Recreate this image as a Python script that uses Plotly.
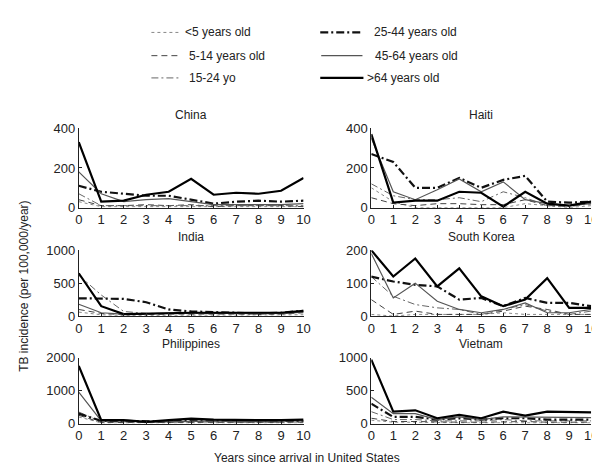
import plotly.graph_objects as go

years = list(range(11))
age_groups = ["<5 years old", "5-14 years old", "15-24 yo", "25-44 years old", "45-64 years old", ">64 years old"]
countries = ["China", "Haiti", "India", "South Korea", "Philippines", "Vietnam"]

china = {
    "<5 years old":    [30, 5, 5, 5, 5, 5, 5, 5, 5, 5, 5],
    "5-14 years old":  [40, 10, 10, 15, 10, 15, 5, 10, 10, 10, 5],
    "15-24 yo":        [70, 10, 10, 10, 10, 10, 10, 10, 10, 10, 10],
    "25-44 years old": [110, 80, 70, 60, 60, 40, 20, 30, 35, 30, 35],
    "45-64 years old": [180, 70, 30, 40, 45, 30, 15, 15, 15, 15, 20],
    ">64 years old":   [330, 30, 35, 65, 80, 145, 65, 75, 70, 85, 150],
}
haiti = {
    "<5 years old":    [100, 30, 0, 0, 0, 0, 0, 20, 10, 0, 10],
    "5-14 years old":  [50, 20, 10, 20, 20, 15, 15, 40, 10, 10, 20],
    "15-24 yo":        [120, 60, 40, 40, 50, 30, 80, 50, 10, 5, 20],
    "25-44 years old": [270, 230, 100, 100, 150, 100, 140, 160, 30, 25, 30],
    "45-64 years old": [350, 80, 40, 90, 145, 80, 130, 40, 20, 10, 20],
    ">64 years old":   [370, 25, 35, 35, 80, 75, 5, 80, 20, 10, 30],
}
india = {
    "<5 years old":    [60, 20, 10, 10, 10, 10, 10, 10, 10, 10, 20],
    "5-14 years old":  [100, 40, 20, 30, 30, 30, 30, 30, 30, 30, 50],
    "15-24 yo":        [620, 320, 70, 40, 40, 40, 40, 40, 40, 40, 60],
    "25-44 years old": [270, 270, 260, 210, 100, 70, 60, 50, 40, 50, 80],
    "45-64 years old": [180, 50, 30, 40, 40, 50, 40, 40, 40, 40, 60],
    ">64 years old":   [650, 150, 30, 40, 50, 50, 50, 50, 50, 50, 80],
}
south_korea = {
    "<5 years old":    [5, 0, 5, 5, 5, 5, 10, 5, 5, 5, 5],
    "5-14 years old":  [50, 5, 15, 5, 5, 5, 15, 30, 20, 5, 5],
    "15-24 yo":        [120, 60, 35, 25, 20, 5, 20, 35, 15, 5, 15],
    "25-44 years old": [120, 105, 95, 90, 50, 55, 30, 55, 40, 40, 30],
    "45-64 years old": [190, 55, 100, 45, 20, 10, 20, 40, 10, 10, 20],
    ">64 years old":   [200, 120, 175, 90, 145, 60, 30, 50, 115, 25, 25],
}
philippines = {
    "<5 years old":    [200, 20, 20, 20, 20, 20, 20, 20, 20, 20, 20],
    "5-14 years old":  [250, 30, 30, 30, 30, 40, 30, 30, 30, 30, 40],
    "15-24 yo":        [350, 50, 50, 40, 40, 60, 40, 40, 40, 40, 50],
    "25-44 years old": [300, 80, 80, 60, 60, 100, 80, 80, 70, 70, 80],
    "45-64 years old": [950, 80, 80, 50, 60, 80, 80, 60, 60, 60, 80],
    ">64 years old":   [1750, 100, 100, 50, 100, 150, 120, 100, 100, 100, 120],
}
vietnam = {
    "<5 years old":    [50, 20, 20, 10, 10, 10, 10, 10, 10, 10, 10],
    "5-14 years old":  [80, 30, 30, 20, 20, 20, 30, 30, 20, 20, 20],
    "15-24 yo":        [180, 60, 60, 40, 40, 40, 60, 40, 40, 40, 40],
    "25-44 years old": [300, 100, 100, 60, 80, 60, 80, 80, 60, 60, 60],
    "45-64 years old": [400, 150, 150, 60, 100, 60, 100, 100, 100, 100, 90],
    ">64 years old":   [970, 180, 200, 80, 130, 80, 180, 120, 180, 180, 170],
}
data = [china, haiti, india, south_korea, philippines, vietnam]
y_max = [400, 400, 1000, 200, 2000, 1000]
y_ticks = [[0, 200, 400], [0, 200, 400], [0, 500, 1000], [0, 100, 200], [0, 1000, 2000], [0, 500, 1000]]

styles = {
    "<5 years old":    dict(color="#888888", width=1, dash="dot"),
    "5-14 years old":  dict(color="#444444", width=1, dash="6px,4px"),
    "15-24 yo":        dict(color="#666666", width=1, dash="7px,3px,2px,3px"),
    "25-44 years old": dict(color="#111111", width=2.2, dash="8px,3px,2px,3px"),
    "45-64 years old": dict(color="#555555", width=1.2, dash="solid"),
    ">64 years old":   dict(color="#000000", width=2.2, dash="solid"),
}

W, H = 600, 469
col_x = [(68, 297), (366, 590)]
row_y = [(117, 199), (243, 311), (354, 422)]

font = "Liberation Sans, Arial, sans-serif"
fig = go.Figure()
layout = dict(width=W, height=H, margin=dict(l=0, r=0, t=0, b=0),
              paper_bgcolor="white", plot_bgcolor="white", showlegend=False,
              font=dict(family=font, size=12, color="#222222"))
annotations = []
shapes = []

for i, (cname, d) in enumerate(zip(countries, data)):
    r, c = divmod(i, 2)
    n = "" if i == 0 else str(i + 1)
    x0, x1 = col_x[c]
    yt, yb = row_y[r]
    layout["xaxis" + n] = dict(domain=[x0 / W, x1 / W], range=[0, 10], tickvals=years,
                               showline=True, linecolor="#222", linewidth=1, ticks="inside",
                               ticklen=3, tickcolor="#222", showgrid=False, zeroline=False,
                               anchor="y" + n, tickfont=dict(size=13))
    layout["yaxis" + n] = dict(domain=[1 - yb / H, 1 - yt / H], range=[0, y_max[i]],
                               tickvals=y_ticks[i], showline=True, linecolor="#222", linewidth=1,
                               ticks="inside", ticklen=3, tickcolor="#222", showgrid=False,
                               zeroline=False, anchor="x" + n, tickfont=dict(size=13))
    for g in age_groups:
        fig.add_trace(go.Scatter(x=years, y=d[g], mode="lines", line=styles[g], name=g,
                                 xaxis="x" + n, yaxis="y" + n))
    annotations.append(dict(text=cname, x=(x0 + x1) / 2 / W, y=1 - (yt - 14) / H,
                            xref="paper", yref="paper", showarrow=False,
                            font=dict(size=12), xanchor="center", yanchor="middle"))

# legend (drawn manually, two columns)
legend_items = [
    ("<5 years old", 142, 172, 174, 18),
    ("5-14 years old", 142, 170, 178, 42),
    ("15-24 yo", 142, 172, 178, 65),
    ("25-44 years old", 314, 357, 367, 18),
    ("45-64 years old", 315, 357, 368, 42),
    (">64 years old", 314, 358, 360, 65),
]
for g, sx0, sx1, tx, ty in legend_items:
    st = styles[g]
    shapes.append(dict(type="line", xref="paper", yref="paper", x0=sx0 / W, x1=sx1 / W,
                       y0=1 - ty / H, y1=1 - ty / H,
                       line=dict(color=st["color"], width=st["width"], dash=st["dash"])))
    annotations.append(dict(text=g, x=tx / W, y=1 - ty / H, xref="paper", yref="paper",
                            showarrow=False, xanchor="left", yanchor="middle",
                            font=dict(size=12)))

annotations.append(dict(text="Years since arrival in United States", x=300 / W, y=1 - 458 / H,
                        xref="paper", yref="paper", showarrow=False, font=dict(size=12),
                        xanchor="center", yanchor="middle"))
annotations.append(dict(text="TB incidence (per 100,000/year)", x=12 / W, y=1 - 280 / H,
                        xref="paper", yref="paper", showarrow=False, font=dict(size=12),
                        textangle=-90, xanchor="center", yanchor="middle"))

layout["annotations"] = annotations
layout["shapes"] = shapes
fig.update_layout(**layout)
fig.write_html("out.html")
